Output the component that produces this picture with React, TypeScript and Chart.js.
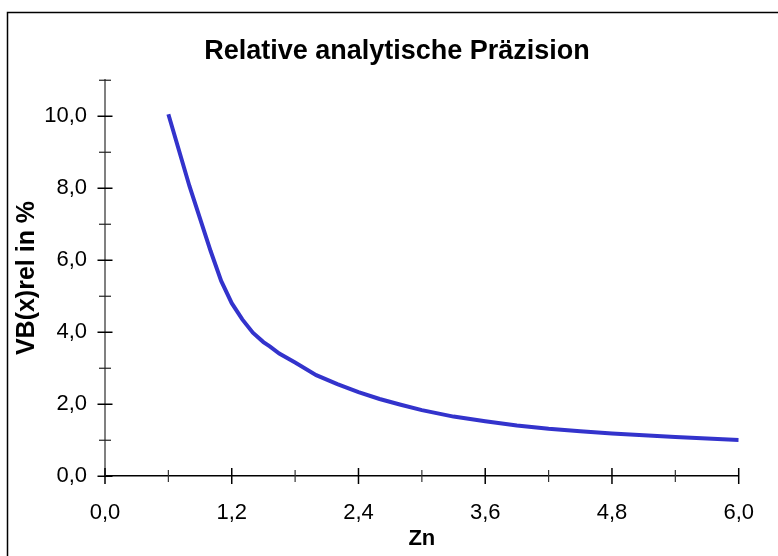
import React, { useEffect, useRef } from "react";
import { Chart, registerables } from "chart.js";

Chart.register(...registerables);

const TITLE = "Relative analytische Präzision";
const X_TITLE = "Zn";
const Y_TITLE = "VB(x)rel in %";

const ZN = [0.6, 0.7, 0.8, 0.9, 1.0, 1.1, 1.2, 1.3, 1.4, 1.5, 1.56, 1.65, 1.8, 2.0, 2.2, 2.4, 2.6, 2.8, 3.0, 3.3, 3.6, 3.9, 4.2, 4.5, 4.8, 5.1, 5.4, 5.7, 6.0];
const VB = [10.05, 9.05, 8.05, 7.15, 6.25, 5.42, 4.8, 4.35, 3.98, 3.72, 3.6, 3.4, 3.15, 2.8, 2.55, 2.33, 2.14, 1.98, 1.83, 1.65, 1.52, 1.4, 1.31, 1.24, 1.18, 1.13, 1.08, 1.04, 1.0];

const X_MAJOR = [0, 1.2, 2.4, 3.6, 4.8, 6.0];
const X_MINOR = [0.6, 1.8, 3.0, 4.2, 5.4];
const Y_MAJOR = [0, 2, 4, 6, 8, 10];
const Y_MINOR = [1, 3, 5, 7, 9, 11];

const fmt = (v: number) => v.toFixed(1).replace(".", ",");
const FONT = "'Liberation Sans', Arial, sans-serif";

export default function App() {
  const ref = useRef<HTMLCanvasElement | null>(null);

  useEffect(() => {
    document.body.style.margin = "0";
    const canvas = ref.current;
    if (!canvas) return;

    const tickPlugin = {
      id: "crossTicks",
      beforeDraw(chart: any) {
        const ctx = chart.ctx;
        ctx.save();
        ctx.fillStyle = "#ffffff";
        ctx.fillRect(0, 0, chart.width, chart.height);
        ctx.strokeStyle = "#000000";
        ctx.lineWidth = 1.5;
        ctx.beginPath();
        ctx.moveTo(7.5, chart.height + 10);
        ctx.lineTo(7.5, 12.5);
        ctx.lineTo(chart.width + 10, 12.5);
        ctx.stroke();
        ctx.restore();
      },
      afterDraw(chart: any) {
        const ctx = chart.ctx;
        const xs = chart.scales.x;
        const ys = chart.scales.y;
        const ax = xs.left;
        const ay = ys.bottom;
        ctx.save();
        ctx.lineWidth = 1.5;
        ctx.strokeStyle = "#000000";
        Y_MAJOR.forEach((v) => {
          const p = Math.round(ys.getPixelForValue(v)) + 0.25;
          ctx.beginPath();
          ctx.moveTo(ax - 7.5, p);
          ctx.lineTo(ax + 7.5, p);
          ctx.stroke();
        });
        ctx.lineWidth = 1.2;
        ctx.strokeStyle = "#222222";
        Y_MINOR.forEach((v) => {
          const p = Math.round(ys.getPixelForValue(v)) + 0.25;
          ctx.beginPath();
          ctx.moveTo(ax - 6, p);
          ctx.lineTo(ax + 6, p);
          ctx.stroke();
        });
        ctx.lineWidth = 1.5;
        ctx.strokeStyle = "#000000";
        X_MAJOR.forEach((v) => {
          const p = xs.getPixelForValue(v);
          ctx.beginPath();
          ctx.moveTo(p, ay - 8);
          ctx.lineTo(p, ay + 8);
          ctx.stroke();
        });
        ctx.lineWidth = 1.2;
        ctx.strokeStyle = "#333333";
        X_MINOR.forEach((v) => {
          const p = xs.getPixelForValue(v);
          ctx.beginPath();
          ctx.moveTo(p, ay - 6);
          ctx.lineTo(p, ay + 6);
          ctx.stroke();
        });
        ctx.restore();
      },
    };

    const chart = new Chart(canvas, {
      type: "line",
      data: {
        datasets: [
          {
            data: ZN.map((x, i) => ({ x, y: VB[i] })),
            borderColor: "#3333CC",
            borderWidth: 4,
            pointRadius: 0,
            tension: 0,
            fill: false,
          },
        ],
      },
      plugins: [tickPlugin],
      options: {
        animation: false,
        responsive: false,
        maintainAspectRatio: false,
        layout: { padding: { left: 16, right: 0, top: 0, bottom: 0 } },
        plugins: {
          legend: { display: false },
          tooltip: { enabled: false },
          title: {
            display: true,
            text: TITLE,
            color: "#000000",
            font: { family: FONT, size: 27, weight: "bold", lineHeight: 1.2 },
            padding: { top: 35.8, bottom: 11.8 },
          },
        },
        scales: {
          x: {
            type: "linear",
            min: 0,
            max: 6,
            afterBuildTicks: (s: any) => {
              s.ticks = X_MAJOR.map((v) => ({ value: v }));
            },
            afterFit: (s: any) => {
              s.height = 80;
            },
            grid: { display: false, drawTicks: false },
            border: { display: true, color: "#000000", width: 1.5 },
            ticks: {
              color: "#000000",
              padding: 24,
              maxRotation: 0,
              font: { family: FONT, size: 22 },
              callback: (v: any) => fmt(Number(v)),
            },
            title: {
              display: true,
              text: X_TITLE,
              color: "#000000",
              font: { family: FONT, size: 22, weight: "bold", lineHeight: 1.2 },
              padding: { top: 0, bottom: 4 },
            },
          },
          y: {
            type: "linear",
            min: 0,
            max: 11,
            afterBuildTicks: (s: any) => {
              s.ticks = Y_MAJOR.map((v) => ({ value: v }));
            },
            afterFit: (s: any) => {
              s.width = 89;
            },
            grid: { display: false, drawTicks: false },
            border: { display: true, color: "#808080", width: 2 },
            ticks: {
              color: "#000000",
              padding: 18,
              font: { family: FONT, size: 22 },
              callback: (v: any) => fmt(Number(v)),
            },
            title: {
              display: true,
              text: Y_TITLE,
              color: "#000000",
              font: { family: FONT, size: 25, weight: "bold", lineHeight: 0.9 },
              padding: { top: 0.25, bottom: 0 },
            },
          },
          yRight: {
            type: "linear",
            position: "right",
            display: true,
            afterFit: (s: any) => {
              s.width = 35.5;
            },
            grid: { display: false, drawTicks: false },
            border: { display: false },
            ticks: { display: false },
            title: { display: false },
          },
        },
      },
    } as any);

    return () => chart.destroy();
  }, []);

  return (
    <div style={{ position: "absolute", left: 0, top: 0, width: 778, height: 556 }}>
      <canvas ref={ref} width={778} height={556} style={{ display: "block", width: 778, height: 556 }} />
    </div>
  );
}
